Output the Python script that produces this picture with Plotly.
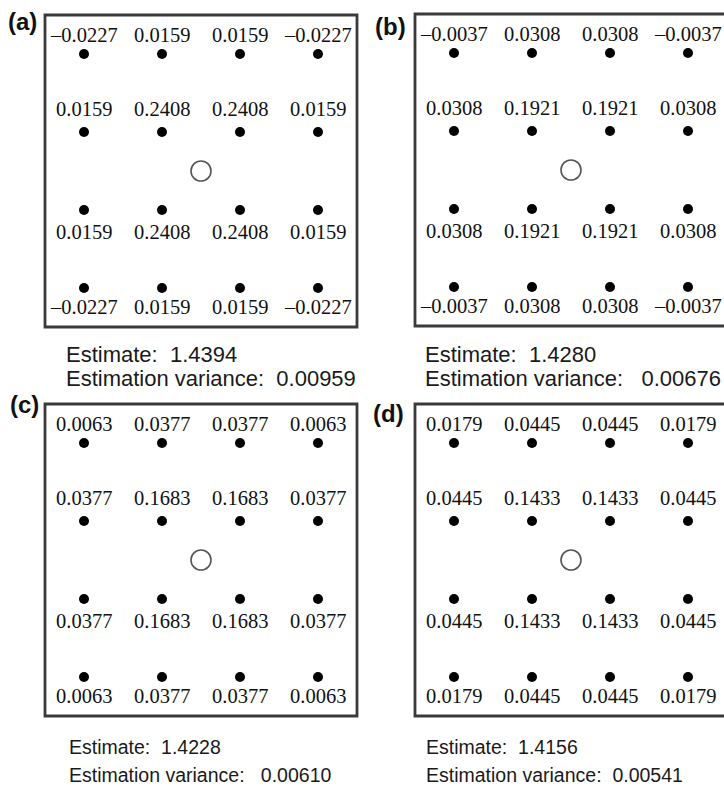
import plotly.graph_objects as go

# Kriging weights on a 4x4 sampling grid (rows listed top to bottom)
panels = ["a", "b", "c", "d"]
weights_a = [[-0.0227, 0.0159, 0.0159, -0.0227],
             [0.0159, 0.2408, 0.2408, 0.0159],
             [0.0159, 0.2408, 0.2408, 0.0159],
             [-0.0227, 0.0159, 0.0159, -0.0227]]
weights_b = [[-0.0037, 0.0308, 0.0308, -0.0037],
             [0.0308, 0.1921, 0.1921, 0.0308],
             [0.0308, 0.1921, 0.1921, 0.0308],
             [-0.0037, 0.0308, 0.0308, -0.0037]]
weights_c = [[0.0063, 0.0377, 0.0377, 0.0063],
             [0.0377, 0.1683, 0.1683, 0.0377],
             [0.0377, 0.1683, 0.1683, 0.0377],
             [0.0063, 0.0377, 0.0377, 0.0063]]
weights_d = [[0.0179, 0.0445, 0.0445, 0.0179],
             [0.0445, 0.1433, 0.1433, 0.0445],
             [0.0445, 0.1433, 0.1433, 0.0445],
             [0.0179, 0.0445, 0.0445, 0.0179]]
estimates = [1.4394, 1.4280, 1.4228, 1.4156]
variances = ["0.00959", "0.00676", "0.00610", "0.00541"]

# grid coordinates of sample points and of the estimated location
grid_x = [0.5, 1.5, 2.5, 3.5]
grid_y = [3.5, 2.5, 1.5, 0.5]
target = (2.0, 2.0)

W, H = 724, 789
UNIT = 78                      # pixels per grid unit
SIZE = 4 * UNIT                # box side in pixels
# box placement (left, top) in pixels
box_pos = {"a": (45, 15), "b": (415, 14), "c": (45, 404), "d": (415, 404)}
# panel letter centres
letter_pos = {"a": (22, 21), "b": (390, 26), "c": (24, 404), "d": (388, 413)}
# summary text: left x, estimate line y, variance line y
text_pos = {"a": (64, 354, 378), "b": (423, 354, 378),
            "c": (67, 747, 775), "d": (424, 747, 775)}
var_gap = {"a": 2, "b": 3, "c": 3, "d": 2}
SANS = "Liberation Sans, Arial, Helvetica, sans-serif"
# the lower pair of summaries is set a little smaller
summary_size = {"a": 22, "b": 22, "c": 19.5, "d": 19.5}
# label vertical offsets for each row (pixels, + is up)
row_shift = [19, 23, -22, -19]

weights = {"a": weights_a, "b": weights_b, "c": weights_c, "d": weights_d}

LABEL_FONT = dict(family="Liberation Serif, Times New Roman, serif", size=20.5, color="#111")
NB = "\u00a0"


def fmt(v):
    return f"{v:.4f}".replace("-", "\u2013")


fig = go.Figure()
annotations = []
shapes = []
layout_axes = {}

for i, p in enumerate(panels):
    left, top = box_pos[p]
    right = min(left + SIZE, W)
    xa = "x" if i == 0 else f"x{i + 1}"
    ya = "y" if i == 0 else f"y{i + 1}"
    xkey = "xaxis" if i == 0 else f"xaxis{i + 1}"
    ykey = "yaxis" if i == 0 else f"yaxis{i + 1}"
    layout_axes[xkey] = dict(domain=[left / W, right / W], range=[0, (right - left) / UNIT],
                             visible=False, fixedrange=True)
    layout_axes[ykey] = dict(domain=[(H - top - SIZE) / H, (H - top) / H], range=[0, 4],
                             visible=False, fixedrange=True)

    # box frame
    shapes.append(dict(type="rect", xref="paper", yref="paper",
                       x0=left / W, x1=(left + SIZE) / W,
                       y0=(H - top - SIZE) / H, y1=(H - top) / H,
                       line=dict(color="#3a3a3a", width=2.8), layer="below"))

    xs, ys = [], []
    for r, yv in enumerate(grid_y):
        for c, xv in enumerate(grid_x):
            xs.append(xv)
            ys.append(yv)
            annotations.append(dict(x=xv, y=yv, xref=xa, yref=ya, text=fmt(weights[p][r][c]),
                                    showarrow=False, yshift=row_shift[r], font=LABEL_FONT,
                                    xanchor="center", yanchor="middle"))
    fig.add_trace(go.Scatter(x=xs, y=ys, xaxis=xa, yaxis=ya, mode="markers",
                             marker=dict(size=10, color="#000"), hoverinfo="skip",
                             showlegend=False, cliponaxis=False))
    fig.add_trace(go.Scatter(x=[target[0]], y=[target[1]], xaxis=xa, yaxis=ya, mode="markers",
                             marker=dict(size=20, color="rgba(0,0,0,0)",
                                         line=dict(color="#555", width=1.6)),
                             hoverinfo="skip", showlegend=False, cliponaxis=False))

    lx, ly = letter_pos[p]
    annotations.append(dict(x=lx / W, y=1 - ly / H, xref="paper", yref="paper",
                            text=f"<b>({p})</b>", showarrow=False, xanchor="center",
                            yanchor="middle", font=dict(family=SANS, size=24, color="#111")))
    tx, ey, vy = text_pos[p]
    fsize = summary_size[p]
    annotations.append(dict(x=tx / W, y=1 - ey / H, xref="paper", yref="paper",
                            text=f"Estimate:{NB * 2}{estimates[i]:.4f}", showarrow=False,
                            xanchor="left", yanchor="middle",
                            font=dict(family=SANS, size=fsize, color="#1a1a1a")))
    annotations.append(dict(x=tx / W, y=1 - vy / H, xref="paper", yref="paper",
                            text=f"Estimation variance:{NB * var_gap[p]}{variances[i]}",
                            showarrow=False, xanchor="left", yanchor="middle",
                            font=dict(family=SANS, size=fsize, color="#1a1a1a")))

fig.update_layout(width=W, height=H, margin=dict(l=0, r=0, t=0, b=0),
                  paper_bgcolor="white", plot_bgcolor="white",
                  annotations=annotations, shapes=shapes, **layout_axes)

fig.write_html("out.html")
